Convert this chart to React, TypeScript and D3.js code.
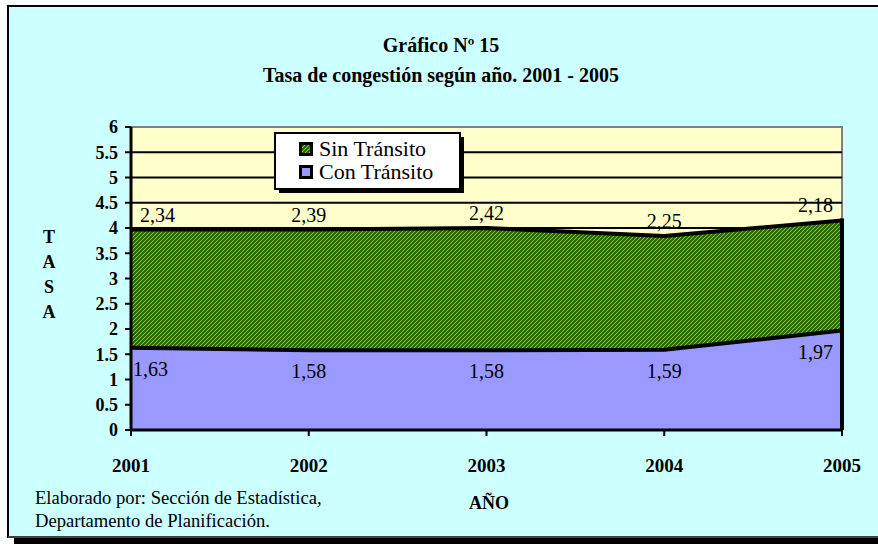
import React from "react";
import * as d3 from "d3";

const years = ["2001", "2002", "2003", "2004", "2005"];
const conTransito = [1.63, 1.58, 1.58, 1.59, 1.97];
const sinTransito = [2.34, 2.39, 2.42, 2.25, 2.18];
const yTicks = [0, 0.5, 1, 1.5, 2, 2.5, 3, 3.5, 4, 4.5, 5, 5.5, 6];
const seriesNames = ["Sin Tránsito", "Con Tránsito"];
const titleLines = ["Gráfico Nº 15", "Tasa de congestión según año. 2001 - 2005"];
const footLines = ["Elaborado por: Sección de Estadística,", "Departamento de Planificación."];
const yTitle = ["T", "A", "S", "A"];
const xTitle = "AÑO";

const W = 878;
const H = 544;
const FONT = "'Liberation Serif', 'Times New Roman', serif";

export default function App() {
  const x = d3.scalePoint<string>().domain(years).range([131, 842]);
  const y = d3.scaleLinear().domain([0, 6]).range([430, 127]);

  const rows = years.map((yr, i) => ({ yr, con: conTransito[i], sin: sinTransito[i] }));
  const stack = d3.stack<any>().keys(["con", "sin"])(rows);
  const area = d3
    .area<any>()
    .x((d) => x(d.data.yr)!)
    .y0((d) => y(d[0]))
    .y1((d) => y(d[1]));
  const topLine = d3
    .line<any>()
    .x((d) => x(d.data.yr)!)
    .y((d) => y(d[1]));

  const last = years.length - 1;
  const anchorOf = (i: number) => (i === 0 ? "start" : i === last ? "end" : "middle");
  const dxOf = (i: number) => (i === 0 ? 9 : i === last ? -9 : 0);

  return (
    <svg width={W} height={H} style={{ position: "absolute", left: 0, top: 0 }}>
      <defs>
        <pattern id="stripes" width="4" height="4" patternUnits="userSpaceOnUse">
          <rect width="4" height="4" fill="#E0D800" />
          <path d="M-1,1 l2,-2 M0,4 l4,-4 M3,5 l2,-2" stroke="#1A6A00" strokeWidth="2.2" />
        </pattern>
      </defs>
      {/* frame shadow + frame */}
      <rect x={14} y={12} width={W} height={H} fill="#000" />
      <rect x={8} y={6} width={W + 10} height={531} fill="#CCFFFF" stroke="#000" strokeWidth={2} />
      <line x1={8} x2={W} y1={537} y2={537} stroke="#808080" strokeWidth={1} />

      {/* titles */}
      {titleLines.map((t, i) => (
        <text key={i} x={441} y={52 + i * 30} textAnchor="middle" fontFamily={FONT} fontWeight="bold" fontSize={20}>
          {t}
        </text>
      ))}

      {/* plot area */}
      <rect x={131} y={127} width={711} height={303} fill="#FFFFCC" stroke="#808080" strokeWidth={2} />
      {yTicks.filter((t) => t > 0 && t < 6).map((t) => (
        <line key={t} x1={131} x2={842} y1={y(t)} y2={y(t)} stroke="#000" strokeWidth={2} />
      ))}

      {/* areas */}
      <path d={area(stack[0] as any)!} fill="#9999FF" />
      <path d={area(stack[1] as any)!} fill="url(#stripes)" />
      <path d={topLine(stack[0] as any)!} fill="none" stroke="#000" strokeWidth={4} />
      <path d={topLine(stack[1] as any)!} fill="none" stroke="#000" strokeWidth={4} />
      <line x1={x(years[last])!} x2={x(years[last])!} y1={y(stack[1][last][1]) - 2} y2={y(0)} stroke="#000" strokeWidth={4} />
      <line x1={131} x2={842} y1={y(0)} y2={y(0)} stroke="#000" strokeWidth={3} />
      <line x1={131} x2={131} y1={127} y2={430} stroke="#000" strokeWidth={3} />

      {/* y axis ticks */}
      {yTicks.map((t) => (
        <g key={t}>
          <line x1={125} x2={131} y1={y(t)} y2={y(t)} stroke="#000" strokeWidth={2} />
          <text x={118} y={y(t)} dy="0.35em" textAnchor="end" fontFamily={FONT} fontWeight="bold" fontSize={18}>
            {String(t)}
          </text>
        </g>
      ))}
      {/* x axis ticks */}
      {years.map((yr) => (
        <g key={yr}>
          <line x1={x(yr)!} x2={x(yr)!} y1={430} y2={436} stroke="#000" strokeWidth={2} />
          <text x={x(yr)!} y={472} textAnchor="middle" fontFamily={FONT} fontWeight="bold" fontSize={19}>
            {yr}
          </text>
        </g>
      ))}

      {/* axis titles */}
      {yTitle.map((c, i) => (
        <text key={i} x={49} y={243 + i * 25} textAnchor="middle" fontFamily={FONT} fontWeight="bold" fontSize={18}>
          {c}
        </text>
      ))}
      <text x={489} y={509} textAnchor="middle" fontFamily={FONT} fontWeight="bold" fontSize={18}>
        {xTitle}
      </text>

      {/* footnote */}
      {footLines.map((t, i) => (
        <text key={i} x={35} y={504 + i * 23} fontFamily={FONT} fontSize={18.6}>
          {t}
        </text>
      ))}

      {/* data labels */}
      {stack[1].map((d: any, i: number) => (
        <text key={"s" + i} x={x(years[i])! + dxOf(i)} y={y(d[1]) - 8} textAnchor={anchorOf(i)} fontFamily={FONT} fontSize={20}>
          {sinTransito[i].toFixed(2).replace(".", ",")}
        </text>
      ))}
      {stack[0].map((d: any, i: number) => (
        <text key={"c" + i} x={x(years[i])! + (i === 0 ? 2 : dxOf(i))} y={y(d[1]) + 28} textAnchor={anchorOf(i)} fontFamily={FONT} fontSize={20}>
          {conTransito[i].toFixed(2).replace(".", ",")}
        </text>
      ))}

      {/* legend */}
      <rect x={279} y={137} width={185} height={56} fill="#000" />
      <rect x={275} y={133} width={185} height={56} fill="#fff" stroke="#000" strokeWidth={2} />
      {seriesNames.map((s, i) => (
        <g key={s}>
          <rect x={299} y={142 + i * 23} width={14} height={14} fill="#000" />
          <rect x={302} y={145 + i * 23} width={8} height={8} fill={i === 0 ? "url(#stripes)" : "#9999FF"} />
          <text x={319} y={156 + i * 23} fontFamily={FONT} fontSize={22}>
            {s}
          </text>
        </g>
      ))}
    </svg>
  );
}
